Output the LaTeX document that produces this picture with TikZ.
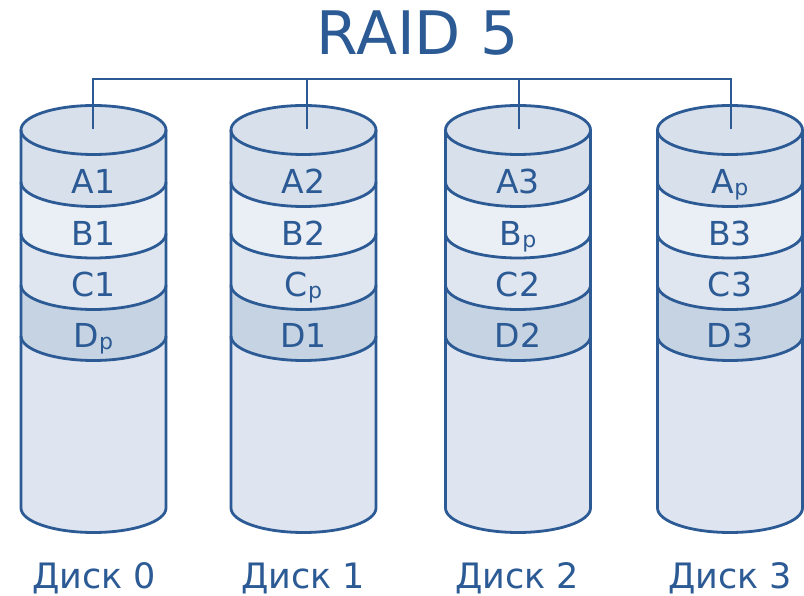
\documentclass[tikz,border=0pt]{standalone}
\usepackage{fontspec}
\setmainfont{DejaVu Sans}
\definecolor{ink}{HTML}{2B5A94}
\definecolor{fA}{HTML}{D7E0EB}
\definecolor{fB}{HTML}{EAEEF5}
\definecolor{fC}{HTML}{DFE6F0}
\definecolor{fD}{HTML}{C6D3E3}
\definecolor{fE}{HTML}{DEE5F0}
\newcommand\subp{{\fontsize{22}{22}\selectfont\raisebox{-2pt}{p}}}
\tikzset{
  outl/.style={draw=ink, line width=2.8pt},
  bandlbl/.style={anchor=base, text=ink, font=\fontsize{33}{33}\selectfont, inner sep=0pt},
  disklbl/.style={anchor=base, text=ink, font=\fontsize{35}{35}\selectfont, inner sep=0pt},
  bus/.style={draw=ink, line width=2.3pt},
}
\newcommand\raiddisk[6]{%
  % #1 cx, #2 name, #3..#6 labels
  \fill[fA] (#1-72.5,465) -- (#1-72.5,87) arc[start angle=180,end angle=360,x radius=72.5,y radius=24.5] -- (#1+72.5,465) -- cycle;
  \foreach \e/\c in {413/fB,361.5/fC,310/fD,259/fE}{
    \fill[\c] (#1-72.5,\e) arc[start angle=180,end angle=360,x radius=72.5,y radius=24.5]
      -- (#1+72.5,87) arc[start angle=0,end angle=-180,x radius=72.5,y radius=24.5] -- cycle;
    \draw[outl] (#1-72.5,\e) arc[start angle=180,end angle=360,x radius=72.5,y radius=24.5];
  }
  \draw[outl, fill=fA] (#1,465) ellipse[x radius=72.5,y radius=24.5];
  \draw[outl] (#1-72.5,465) -- (#1-72.5,87) arc[start angle=180,end angle=360,x radius=72.5,y radius=24.5] -- (#1+72.5,465);
  \node[bandlbl] (#2a) at (#1,401) {#3};
  \node[bandlbl] (#2b) at (#1,349.5) {#4};
  \node[bandlbl] (#2c) at (#1,298) {#5};
  \node[bandlbl] (#2d) at (#1,247) {#6};
}
\begin{document}
\begin{tikzpicture}[x=1pt,y=1pt]
\useasboundingbox (0,0) rectangle (804,595);
\raiddisk{93.5}{d0}{A1}{B1}{C1}{D\subp}
\raiddisk{303.5}{d1}{A2}{B2}{C\subp}{D1}
\raiddisk{518}{d2}{A3}{B\subp}{C2}{D2}
\raiddisk{730}{d3}{A\subp}{B3}{C3}{D3}
% bus
\coordinate (t0) at (93,516);
\coordinate (t1) at (307,516);
\coordinate (t2) at (519,516);
\coordinate (t3) at (731,516);
\coordinate (c0) at (93,466);
\coordinate (c1) at (307,466);
\coordinate (c2) at (519,466);
\coordinate (c3) at (731,466);
\draw[bus] (c0) -- (t0) -- (t3) -- (c3);
\draw[bus] (t1) -- (c1);
\draw[bus] (t2) -- (c2);
% title
\node[anchor=base, text=ink, font=\fontsize{60}{60}\selectfont, inner sep=0pt] (title) at (417.5,540) {RAID 5};
% disk labels
\node[disklbl] (l0) at (94,7) {Диск 0};
\node[disklbl] (l1) at (303,7) {Диск 1};
\node[disklbl] (l2) at (517,7) {Диск 2};
\node[disklbl] (l3) at (730,7) {Диск 3};
\end{tikzpicture}
\end{document}
